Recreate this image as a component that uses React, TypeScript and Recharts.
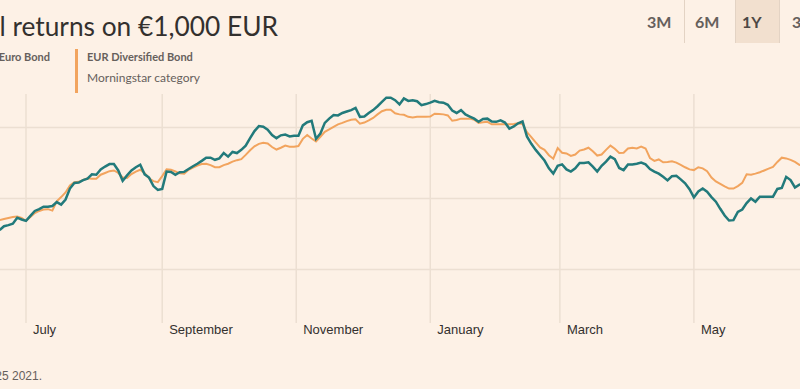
import { LineChart, Line, XAxis, YAxis, CartesianGrid } from 'recharts'

// every second day, Jun 2020 – Jun 2021
const DATES = [
  '2020-06-19', '2020-06-21', '2020-06-23', '2020-06-25', '2020-06-27', '2020-06-29',
  '2020-07-01', '2020-07-03', '2020-07-05', '2020-07-07', '2020-07-09', '2020-07-11', '2020-07-13', '2020-07-15',
  '2020-07-17', '2020-07-19', '2020-07-21', '2020-07-23', '2020-07-25', '2020-07-27', '2020-07-29', '2020-07-31',
  '2020-08-02', '2020-08-04', '2020-08-06', '2020-08-08', '2020-08-10', '2020-08-12', '2020-08-14', '2020-08-16',
  '2020-08-18', '2020-08-20', '2020-08-22', '2020-08-24', '2020-08-26', '2020-08-28', '2020-08-30',
  '2020-09-01', '2020-09-03', '2020-09-05', '2020-09-07', '2020-09-09', '2020-09-11', '2020-09-13', '2020-09-15',
  '2020-09-17', '2020-09-19', '2020-09-21', '2020-09-23', '2020-09-25', '2020-09-27', '2020-09-29',
  '2020-10-01', '2020-10-03', '2020-10-05', '2020-10-07', '2020-10-09', '2020-10-11', '2020-10-13', '2020-10-15',
  '2020-10-17', '2020-10-19', '2020-10-21', '2020-10-23', '2020-10-25', '2020-10-27', '2020-10-29', '2020-10-31',
  '2020-11-02', '2020-11-04', '2020-11-06', '2020-11-08', '2020-11-10', '2020-11-12', '2020-11-14', '2020-11-16',
  '2020-11-18', '2020-11-20', '2020-11-22', '2020-11-24', '2020-11-26', '2020-11-28', '2020-11-30',
  '2020-12-02', '2020-12-04', '2020-12-06', '2020-12-08', '2020-12-10', '2020-12-12', '2020-12-14', '2020-12-16',
  '2020-12-18', '2020-12-20', '2020-12-22', '2020-12-24', '2020-12-26', '2020-12-28', '2020-12-30',
  '2021-01-01', '2021-01-03', '2021-01-05', '2021-01-07', '2021-01-09', '2021-01-11', '2021-01-13', '2021-01-15',
  '2021-01-17', '2021-01-19', '2021-01-21', '2021-01-23', '2021-01-25', '2021-01-27', '2021-01-29', '2021-01-31',
  '2021-02-02', '2021-02-04', '2021-02-06', '2021-02-08', '2021-02-10', '2021-02-12', '2021-02-14', '2021-02-16',
  '2021-02-18', '2021-02-20', '2021-02-22', '2021-02-24', '2021-02-26', '2021-02-28',
  '2021-03-02', '2021-03-04', '2021-03-06', '2021-03-08', '2021-03-10', '2021-03-12', '2021-03-14', '2021-03-16',
  '2021-03-18', '2021-03-20', '2021-03-22', '2021-03-24', '2021-03-26', '2021-03-28', '2021-03-30',
  '2021-04-01', '2021-04-03', '2021-04-05', '2021-04-07', '2021-04-09', '2021-04-11', '2021-04-13', '2021-04-15',
  '2021-04-17', '2021-04-19', '2021-04-21', '2021-04-23', '2021-04-25', '2021-04-27', '2021-04-29',
  '2021-05-01', '2021-05-03', '2021-05-05', '2021-05-07', '2021-05-09', '2021-05-11', '2021-05-13', '2021-05-15',
  '2021-05-17', '2021-05-19', '2021-05-21', '2021-05-23', '2021-05-25', '2021-05-27', '2021-05-29', '2021-05-31',
  '2021-06-02', '2021-06-04', '2021-06-06', '2021-06-08', '2021-06-10', '2021-06-12', '2021-06-14', '2021-06-16',
  '2021-06-18', '2021-06-20',
]

// fund (teal), value of €1,000
const FUND = [
  1011.1, 1012.2, 1012.5, 1012.9, 1014.6, 1014.1, 1013.7, 1015.1, 1016.5, 1017.0,
  1017.7, 1017.7, 1017.9, 1019.0, 1018.3, 1019.7, 1022.8, 1024.4, 1024.5, 1025.2,
  1025.6, 1026.8, 1026.7, 1028.2, 1029.0, 1029.7, 1029.7, 1027.9, 1025.0, 1026.5,
  1027.9, 1028.8, 1029.5, 1026.8, 1025.9, 1023.5, 1022.4, 1022.7, 1027.6, 1027.5,
  1026.7, 1027.4, 1027.5, 1028.3, 1029.1, 1029.8, 1030.6, 1031.5, 1031.5, 1030.9,
  1031.3, 1032.8, 1031.8, 1033.1, 1032.8, 1033.7, 1034.9, 1037.0, 1039.0, 1040.4,
  1040.2, 1039.4, 1037.9, 1037.0, 1037.8, 1038.0, 1037.5, 1037.7, 1037.7, 1040.6,
  1041.5, 1041.9, 1036.8, 1038.3, 1041.3, 1042.5, 1043.5, 1043.4, 1044.1, 1044.5,
  1044.9, 1045.5, 1043.0, 1043.1, 1044.1, 1044.9, 1046.0, 1047.2, 1048.4, 1048.4,
  1047.7, 1046.5, 1048.2, 1047.5, 1047.7, 1047.4, 1046.3, 1046.6, 1047.0, 1047.5,
  1047.1, 1047.0, 1046.4, 1044.8, 1044.1, 1044.9, 1043.7, 1043.1, 1042.5, 1041.6,
  1042.4, 1042.5, 1041.7, 1041.6, 1042.0, 1041.4, 1039.7, 1040.3, 1041.2, 1041.7,
  1037.5, 1035.4, 1033.7, 1032.2, 1030.7, 1028.5, 1027.0, 1029.2, 1029.6, 1028.2,
  1027.6, 1028.5, 1030.0, 1030.0, 1030.2, 1029.0, 1027.6, 1029.2, 1030.4, 1031.8,
  1031.1, 1028.6, 1028.0, 1029.6, 1029.6, 1029.8, 1030.1, 1029.6, 1028.3, 1027.6,
  1027.0, 1026.1, 1025.1, 1026.3, 1026.4, 1025.4, 1024.3, 1022.6, 1020.3, 1022.0,
  1022.8, 1021.9, 1020.4, 1019.1, 1017.1, 1015.2, 1013.8, 1013.9, 1016.2, 1016.9,
  1018.7, 1020.0, 1019.1, 1020.5, 1020.5, 1020.5, 1020.5, 1022.7, 1023.0, 1026.1,
  1025.2, 1023.1, 1023.9, 1024.1,
]

// EUR Diversified Bond, Morningstar category (orange)
const CATEGORY = [
  1013.9, 1014.2, 1014.5, 1014.8, 1014.9, 1014.5, 1013.7, 1014.8, 1015.9, 1016.5,
  1016.9, 1017.0, 1016.6, 1019.2, 1020.4, 1021.7, 1023.7, 1024.6, 1024.7, 1025.2,
  1025.7, 1025.6, 1025.6, 1026.7, 1027.2, 1027.7, 1027.9, 1027.2, 1025.9, 1025.8,
  1026.9, 1027.6, 1028.1, 1027.1, 1025.7, 1024.9, 1024.6, 1026.3, 1028.2, 1028.1,
  1027.6, 1027.1, 1027.0, 1028.1, 1028.7, 1029.3, 1029.7, 1029.8, 1029.4, 1028.8,
  1028.8, 1029.4, 1029.8, 1030.4, 1030.8, 1031.1, 1032.3, 1033.6, 1034.7, 1035.4,
  1035.7, 1035.5, 1034.5, 1033.8, 1034.3, 1034.9, 1034.6, 1034.6, 1034.8, 1036.8,
  1037.9, 1036.9, 1036.1, 1037.4, 1038.8, 1039.5, 1040.2, 1040.9, 1041.3, 1041.8,
  1042.2, 1042.3, 1041.1, 1041.4, 1042.0, 1042.7, 1043.7, 1044.6, 1045.0, 1045.0,
  1044.0, 1043.7, 1043.6, 1043.0, 1042.8, 1043.0, 1043.0, 1043.0, 1043.1, 1043.9,
  1043.8, 1043.7, 1043.4, 1041.9, 1042.1, 1042.5, 1042.5, 1042.5, 1042.2, 1041.3,
  1041.5, 1041.6, 1040.9, 1040.9, 1040.9, 1040.9, 1040.9, 1041.0, 1041.2, 1041.0,
  1038.7, 1037.3, 1035.8, 1034.4, 1033.7, 1032.2, 1031.2, 1034.2, 1032.9, 1032.7,
  1032.0, 1032.4, 1033.5, 1033.8, 1034.3, 1033.3, 1032.1, 1032.4, 1033.7, 1034.9,
  1034.0, 1032.8, 1032.9, 1034.1, 1034.3, 1034.1, 1034.6, 1034.1, 1031.4, 1030.6,
  1031.0, 1030.2, 1030.3, 1030.5, 1030.1, 1029.5, 1028.8, 1028.2, 1028.0, 1028.8,
  1028.5, 1027.7, 1025.9, 1024.8, 1024.1, 1023.4, 1022.8, 1022.8, 1023.5, 1024.4,
  1026.8, 1026.7, 1027.0, 1027.4, 1027.9, 1028.4, 1028.9, 1030.3, 1031.5, 1031.3,
  1030.9, 1030.3, 1029.5, 1029.0,
]

const MONTH_TICKS = ['2020-07-01', '2020-09-01', '2020-11-01', '2021-01-01', '2021-03-01', '2021-05-01']
const MONTH_LABELS = ['July', 'September', 'November', 'January', 'March', 'May']
const VALUE_TICKS = [1000, 1020, 1040]
const RANGES = ['3M', '6M', '1Y', '3Y']
const ACTIVE_RANGE = '1Y'

const BG = '#fdf1e6'
const GRID = '#ecdfd2'
const TEAL = '#227a7b'
const ORANGE = '#f2a45e'
const INK = '#33302e'
const MUTED = '#66605c'

const data = DATES.map((d, i) => ({ t: Date.parse(d), fund: FUND[i], category: CATEGORY[i] }))
const tickTimes = MONTH_TICKS.map((d) => Date.parse(d))
const labelFor = (t: number) => MONTH_LABELS[tickTimes.indexOf(t)] ?? ''

function MonthTick({ x, y, payload }: any) {
  return (
    <text x={x + 7} y={y + 11} fill={INK} fontSize={13} fontFamily="'Liberation Sans', Arial, sans-serif">
      {labelFor(payload.value)}
    </text>
  )
}

export default function App() {
  const rangeX = [647, 695, 742, 792]
  return (
    <div
      style={{
        position: 'absolute',
        left: 0,
        top: 0,
        width: 800,
        height: 389,
        overflow: 'hidden',
        background: BG,
        fontFamily: "Lato, 'Open Sans', sans-serif",
      }}
    >
      {/* title, cut off on the left */}
      <div
        style={{ position: 'absolute', right: 522, top: 10, fontSize: 26.3, color: INK, whiteSpace: 'nowrap' }}
      >
        Total returns on €1,000 EUR
      </div>

      {/* period switcher */}
      <div style={{ position: 'absolute', left: 735, top: 0, width: 44, height: 43, background: '#f2e0cf' }} />
      {[684, 735, 779].map((x) => (
        <div key={x} style={{ position: 'absolute', left: x, top: 0, width: 1, height: 43, background: '#e3d3c4' }} />
      ))}
      {RANGES.map((r, i) => (
        <div
          key={r}
          style={{
            position: 'absolute',
            left: rangeX[i],
            top: 12,
            fontSize: 16,
            fontWeight: 700,
            color: r === ACTIVE_RANGE ? '#4d4845' : MUTED,
            whiteSpace: 'nowrap',
          }}
        >
          {r}
        </div>
      ))}

      {/* legend */}
      <div
        style={{ position: 'absolute', right: 750, top: 50, fontSize: 11, fontWeight: 700, color: MUTED, whiteSpace: 'nowrap' }}
      >
        Euro Bond
      </div>
      <div style={{ position: 'absolute', left: 75, top: 49, width: 3, height: 44, background: ORANGE }} />
      <div style={{ position: 'absolute', left: 87, top: 50, fontSize: 11, fontWeight: 700, color: MUTED, whiteSpace: 'nowrap' }}>
        EUR Diversified Bond
      </div>
      <div style={{ position: 'absolute', left: 87, top: 70, fontSize: 12, color: MUTED, whiteSpace: 'nowrap' }}>
        Morningstar category
      </div>

      <div style={{ position: 'absolute', left: 0, top: 0 }}>
        <LineChart width={800} height={389} data={data} margin={{ top: 94, right: 0, bottom: 36, left: 0 }}>
          <CartesianGrid stroke={GRID} strokeWidth={1.5} verticalValues={tickTimes} horizontalValues={VALUE_TICKS} />
          <XAxis
            dataKey="t"
            type="number"
            scale="time"
            domain={[Date.parse('2020-06-19T04:00:00Z'), Date.parse('2021-06-18T07:00:00Z')]}
            allowDataOverflow
            ticks={tickTimes}
            interval={0}
            tick={<MonthTick />}
            axisLine={false}
            tickLine={false}
            tickSize={0}
            tickMargin={0}
            height={30}
          />
          <YAxis hide domain={[984.93, 1049.44]} ticks={VALUE_TICKS} allowDataOverflow />
          <Line dataKey="category" stroke={ORANGE} strokeWidth={2} dot={false} isAnimationActive={false} />
          <Line dataKey="fund" stroke={TEAL} strokeWidth={2.5} dot={false} isAnimationActive={false} />
        </LineChart>
      </div>

      {/* footnote, cut off on the left */}
      <div
        style={{
          position: 'absolute',
          right: 758,
          top: 369,
          fontSize: 12,
          color: MUTED,
          whiteSpace: 'nowrap',
          fontFamily: "'Liberation Sans', Arial, sans-serif",
        }}
      >
        25 2021.
      </div>
    </div>
  )
}
